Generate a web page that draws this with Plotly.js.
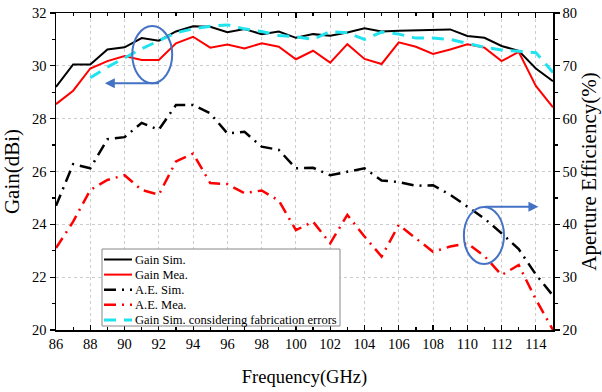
<!DOCTYPE html>
<html>
<head>
<meta charset="utf-8">
<script src="https://cdn.plot.ly/plotly-3.0.1.min.js"></script>
<style>
  html, body { margin: 0; padding: 0; background: #fff; }
  #chart { width: 602px; height: 392px; }
</style>
</head>
<body>
<div id="chart"></div>
<script>
// Frequency sweep (GHz)
const freq = [86, 87, 88, 89, 90, 91, 92, 93, 94, 95, 96, 97, 98, 99, 100,
              101, 102, 103, 104, 105, 106, 107, 108, 109, 110, 111, 112, 113, 114, 115];
const freqFab = [88, 89, 90, 91, 92, 93, 94, 95, 96, 97, 98, 99, 100,
                 101, 102, 103, 104, 105, 106, 107, 108, 109, 110, 111, 112, 113, 114, 115];

// Gain (dBi)
const gainSim = [29.2, 30.05, 30.05, 30.62, 30.7, 31.05, 30.95, 31.3, 31.5, 31.48,
                 31.27, 31.39, 31.2, 31.3, 31.06, 31.2, 31.14, 31.26, 31.42, 31.3,
                 31.33, 31.35, 31.38, 31.38, 31.13, 31.06, 30.75, 30.57, 29.9, 29.42];
const gainMea = [28.55, 29.06, 29.9, 30.18, 30.37, 30.22, 30.22, 30.85, 31.1, 30.69,
                 30.81, 30.66, 30.85, 30.72, 30.25, 30.57, 30.12, 30.82, 30.26, 30.07,
                 30.89, 30.72, 30.45, 30.62, 30.82, 30.69, 30.18, 30.53, 29.24, 28.43];
const gainFab = [29.55, 29.95, 30.3, 30.65, 30.95, 31.25, 31.4, 31.5, 31.55, 31.4,
                 31.3, 31.15, 31.1, 31.0, 31.3, 31.25, 31.0, 31.28, 31.2, 31.05,
                 31.05, 31.0, 30.85, 30.7, 30.6, 30.55, 30.5, 29.75];

// Aperture efficiency (%)
const aeSim = [43.5, 51.4, 50.6, 56.1, 56.5, 59.2, 57.9, 62.6, 62.6, 61.0,
               57.2, 57.5, 54.7, 54.1, 50.6, 50.7, 49.3, 50.0, 50.6, 48.3,
               48.0, 47.3, 47.4, 45.6, 43.3, 41.1, 38.3, 35.3, 30.5, 26.5];
const aeMea = [35.5, 40.5, 46.5, 48.4, 49.3, 46.5, 45.6, 51.9, 53.4, 47.8,
               47.6, 45.9, 46.4, 44.5, 38.9, 40.5, 36.4, 41.8, 37.7, 33.9,
               39.9, 37.4, 34.8, 35.8, 36.4, 34.0, 30.4, 32.3, 25.8, 20.0];

// Series labels
const seriesNames = ['Gain Sim.', 'Gain Mea.', 'A.E. Sim.', 'A.E. Mea.',
                     'Gain Sim. considering fabrication errors'];

const FONT = 'Liberation Serif, Times New Roman, serif';
const BLUE = '#4472C4';
const DASHDOT = '12px,6px,2px,6px';

const traces = [
  { x: freq, y: gainSim, name: seriesNames[0], type: 'scatter', mode: 'lines',
    line: { color: '#000000', width: 2 } },
  { x: freq, y: gainMea, name: seriesNames[1], type: 'scatter', mode: 'lines',
    line: { color: '#FF0000', width: 2 } },
  { x: freq, y: aeSim, name: seriesNames[2], type: 'scatter', mode: 'lines', yaxis: 'y2',
    line: { color: '#000000', width: 2.5, dash: DASHDOT } },
  { x: freq, y: aeMea, name: seriesNames[3], type: 'scatter', mode: 'lines', yaxis: 'y2',
    line: { color: '#FF0000', width: 2.5, dash: DASHDOT } },
  { x: freqFab, y: gainFab, name: seriesNames[4], type: 'scatter', mode: 'lines',
    line: { color: '#1FE3EE', width: 3, dash: '12px,8px' } }
];

// Plot area in pixels, used to place the compact legend box
const M = { l: 56, r: 49, t: 13, b: 62 };
const W = 602, H = 392;
const pw = W - M.l - M.r, ph = H - M.t - M.b;
const px = v => (v - M.l) / pw;
const py = v => (H - M.b - v) / ph;

const legBox = { left: 102, right: 340, top: 249, bottom: 326 };
const legRow0 = 259.5, legRowStep = 15.1;

const legendShapes = [
  { type: 'rect', xref: 'paper', yref: 'paper', layer: 'above',
    x0: px(legBox.left), x1: px(legBox.right), y0: py(legBox.bottom), y1: py(legBox.top),
    line: { color: '#888888', width: 1 }, fillcolor: '#ffffff' }
];
const legendLabels = [];
traces.forEach((t, i) => {
  const yy = py(legRow0 + i * legRowStep);
  legendShapes.push({
    type: 'line', xref: 'paper', yref: 'paper', layer: 'above',
    x0: px(104), x1: px(132), y0: yy, y1: yy,
    line: { color: t.line.color, width: t.line.width, dash: t.line.dash || 'solid' }
  });
  legendLabels.push({
    xref: 'paper', yref: 'paper', x: px(133), y: yy, xanchor: 'left', yanchor: 'middle',
    text: t.name, showarrow: false, font: { family: FONT, size: 12.5, color: '#000' }
  });
});

const layout = {
  width: W, height: H,
  margin: M,
  paper_bgcolor: '#ffffff', plot_bgcolor: '#ffffff',
  font: { family: FONT, color: '#000', size: 14.5 },
  showlegend: false,
  xaxis: {
    range: [86, 115], tick0: 86, dtick: 2,
    showline: true, linecolor: '#000', linewidth: 1.5, mirror: 'ticks',
    ticks: 'inside', ticklen: 5, tickwidth: 1.2, tickcolor: '#000',
    minor: { dtick: 1, ticks: 'inside', ticklen: 3, tickwidth: 1.2, tickcolor: '#000', showgrid: false },
    showgrid: true, gridcolor: '#cccccc', griddash: 'dot', gridwidth: 1,
    zeroline: false,
    tickfont: { family: FONT, size: 14.5 },
    title: { text: 'Frequency(GHz)', font: { family: FONT, size: 18.5 }, standoff: 19 }
  },
  yaxis: {
    range: [20, 32], tick0: 20, dtick: 2,
    showline: true, linecolor: '#000', linewidth: 1.5,
    ticks: 'outside', ticklen: 5, tickwidth: 1.2, tickcolor: '#000',
    minor: { dtick: 1, ticks: 'outside', ticklen: 3, tickwidth: 1.2, tickcolor: '#000', showgrid: false },
    showgrid: true, gridcolor: '#cccccc', griddash: 'dot', gridwidth: 1,
    zeroline: false,
    tickfont: { family: FONT, size: 14.5 },
    title: { text: 'Gain(dBi)', font: { family: FONT, size: 21 }, standoff: 6 }
  },
  yaxis2: {
    overlaying: 'y', side: 'right',
    range: [20, 80], tick0: 20, dtick: 10,
    showline: true, linecolor: '#000', linewidth: 1.5,
    ticks: 'outside', ticklen: 5, tickwidth: 1.2, tickcolor: '#000',
    minor: { dtick: 5, ticks: 'outside', ticklen: 3, tickwidth: 1.2, tickcolor: '#000', showgrid: false },
    showgrid: false, zeroline: false,
    tickfont: { family: FONT, size: 14.5 },
    title: { text: 'Aperture Efficiency(%)', font: { family: FONT, size: 21 }, standoff: 4 }
  },
  shapes: [
    // ellipse marking the gain curves
    { type: 'circle', xref: 'x', yref: 'y', x0: 90.45, x1: 92.78, y0: 29.34, y1: 31.51,
      line: { color: BLUE, width: 2 }, fillcolor: 'rgba(0,0,0,0)' },
    // ellipse marking the efficiency curves
    { type: 'circle', xref: 'x', yref: 'y', x0: 109.8, x1: 112.14, y0: 22.5, y1: 24.66,
      line: { color: BLUE, width: 2 }, fillcolor: 'rgba(0,0,0,0)' }
  ].concat(legendShapes),
  annotations: [
    // arrow pointing to the left (gain) axis
    { x: 88.85, y: 29.34, ax: 92.1, ay: 29.34, xref: 'x', yref: 'y', axref: 'x', ayref: 'y',
      text: '', showarrow: true, arrowhead: 2, arrowsize: 1, arrowwidth: 2, arrowcolor: BLUE },
    // arrow pointing to the right (efficiency) axis
    { x: 114.15, y: 24.67, ax: 110.95, ay: 24.67, xref: 'x', yref: 'y', axref: 'x', ayref: 'y',
      text: '', showarrow: true, arrowhead: 2, arrowsize: 1, arrowwidth: 2, arrowcolor: BLUE }
  ].concat(legendLabels)
};

Plotly.newPlot('chart', traces, layout, { displayModeBar: false, staticPlot: true });
</script>
</body>
</html>
